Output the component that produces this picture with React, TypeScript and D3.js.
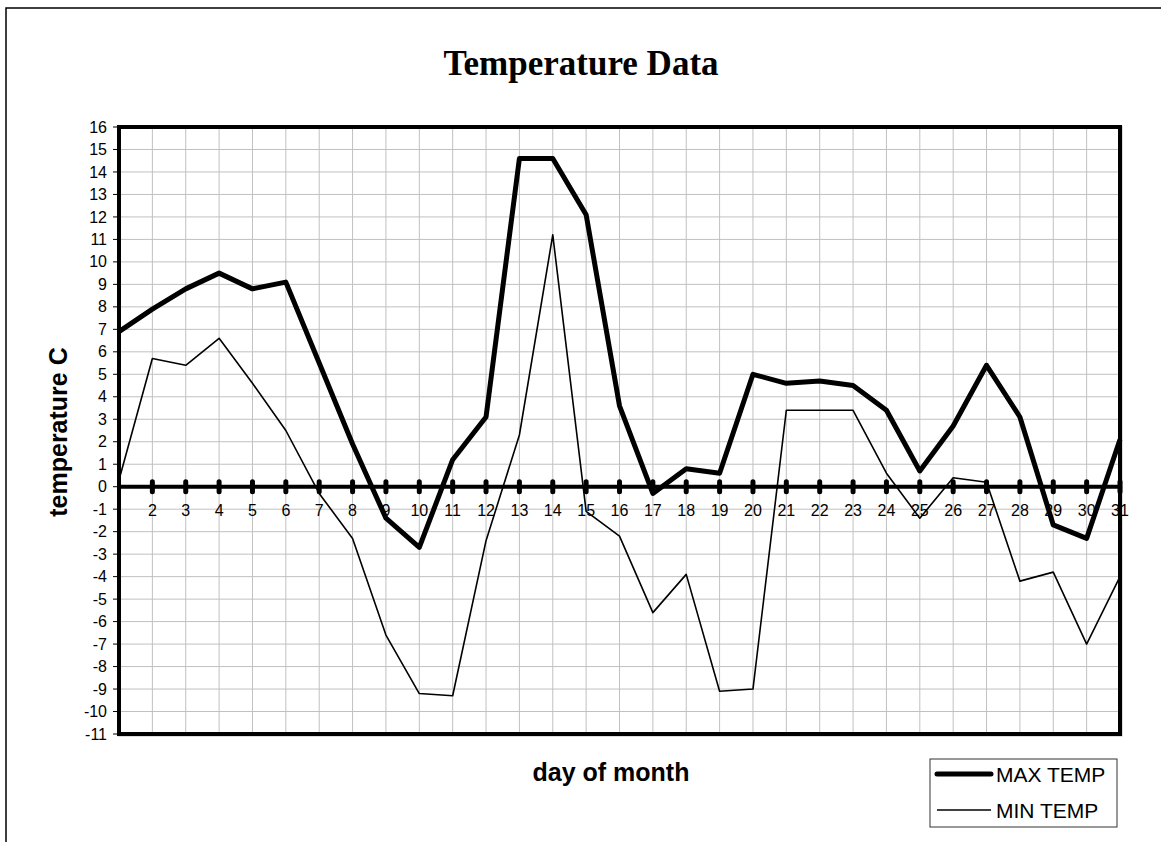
import React from "react";
import * as d3 from "d3";

const days: number[] = Array.from({ length: 31 }, (_, i) => i + 1);
const maxTemp: number[] = [6.9, 7.9, 8.8, 9.5, 8.8, 9.1, 5.5, 1.9, -1.4, -2.7, 1.2, 3.1, 14.6, 14.6, 12.1, 3.6, -0.3, 0.8, 0.6, 5.0, 4.6, 4.7, 4.5, 3.4, 0.7, 2.7, 5.4, 3.1, -1.7, -2.3, 2.1];
const minTemp: number[] = [0.3, 5.7, 5.4, 6.6, 4.6, 2.5, -0.3, -2.3, -6.6, -9.2, -9.3, -2.4, 2.3, 11.2, -1.1, -2.2, -5.6, -3.9, -9.1, -9.0, 3.4, 3.4, 3.4, 0.6, -1.4, 0.4, 0.2, -4.2, -3.8, -7.0, -4.0];
const yTicks: number[] = d3.range(-11, 17);
const xTickLabels: number[] = d3.range(2, 32);
const seriesNames: string[] = ["MAX TEMP", "MIN TEMP"];

export default function App() {
  const left = 119, right = 1120, top = 127, bottom = 734;
  const x = d3.scaleLinear().domain([1, 31]).range([left, right]);
  const y = d3.scaleLinear().domain([-11, 16]).range([bottom, top]);
  const line = d3
    .line<number>()
    .x((_, i) => x(days[i]))
    .y((d) => y(d));
  const y0 = y(0);
  return (
    <svg width={1161} height={842} style={{ position: "absolute", left: 0, top: 0, background: "#fff" }}>
      <rect x={6} y={8} width={1300} height={1000} fill="#fff" stroke="#000" strokeWidth={1.5} />
      <text x={581} y={75} textAnchor="middle" fontFamily="'Liberation Serif', 'Times New Roman', serif" fontWeight="bold" fontSize={35}>
        Temperature Data
      </text>
      {/* grid */}
      <g stroke="#c0c0c0" strokeWidth={1}>
        {days.map((d) => (
          <line key={"vx" + d} x1={x(d)} x2={x(d)} y1={top} y2={bottom} />
        ))}
        {yTicks.map((t) => (
          <line key={"hy" + t} x1={left} x2={right} y1={y(t)} y2={y(t)} />
        ))}
      </g>
      {/* plot shadow */}
      <rect x={left - 1} y={top - 1} width={right - left + 3} height={bottom - top + 3} fill="none" stroke="#bbb" strokeWidth={1} />
      {/* y ticks */}
      <g fontFamily="'Liberation Sans', Arial, sans-serif" fontSize={16} fill="#000">
        {yTicks.map((t) => (
          <g key={"yt" + t}>
            <line x1={113} x2={left} y1={y(t)} y2={y(t)} stroke="#000" strokeWidth={1} />
            <text x={107} y={y(t)} dy="0.35em" textAnchor="end">
              {t}
            </text>
          </g>
        ))}
      </g>
      {/* x axis at zero */}
      <line x1={left} x2={right} y1={y0} y2={y0} stroke="#000" strokeWidth={4} />
      <g stroke="#000" strokeWidth={5} strokeLinecap="round">
        {days.slice(1).map((d) => (
          <line key={"xt" + d} x1={x(d)} x2={x(d)} y1={y0 - 5} y2={y0 + 5} />
        ))}
      </g>
      <g fontFamily="'Liberation Sans', Arial, sans-serif" fontSize={16} fill="#000" textAnchor="middle">
        {xTickLabels.map((d) => (
          <text key={"xl" + d} x={x(d)} y={516}>
            {d}
          </text>
        ))}
      </g>
      {/* series */}
      <path d={line(minTemp) || ""} fill="none" stroke="#000" strokeWidth={1.6} strokeLinejoin="round" />
      <path d={line(maxTemp) || ""} fill="none" stroke="#000" strokeWidth={5} strokeLinejoin="round" />
      {/* plot border */}
      <rect x={left} y={top} width={right - left} height={bottom - top} fill="none" stroke="#000" strokeWidth={4} />
      {/* axis titles */}
      <text x={611} y={781} textAnchor="middle" fontFamily="'Liberation Sans', Arial, sans-serif" fontWeight="bold" fontSize={25}>
        day of month
      </text>
      <text
        transform={`translate(67, 432) rotate(-90)`}
        textAnchor="middle"
        fontFamily="'Liberation Sans', Arial, sans-serif"
        fontWeight="bold"
        fontSize={25}
      >
        temperature C
      </text>
      {/* legend */}
      <rect x={930} y={759} width={187} height={68} fill="#fff" stroke="#333" strokeWidth={1} />
      <line x1={937} x2={991} y1={774} y2={774} stroke="#000" strokeWidth={5} strokeLinecap="round" />
      <line x1={937} x2={991} y1={810} y2={810} stroke="#000" strokeWidth={1.6} />
      <g fontFamily="'Liberation Sans', Arial, sans-serif" fontSize={21} fill="#000">
        <text x={996} y={782}>{seriesNames[0]}</text>
        <text x={996} y={818}>{seriesNames[1]}</text>
      </g>
    </svg>
  );
}
